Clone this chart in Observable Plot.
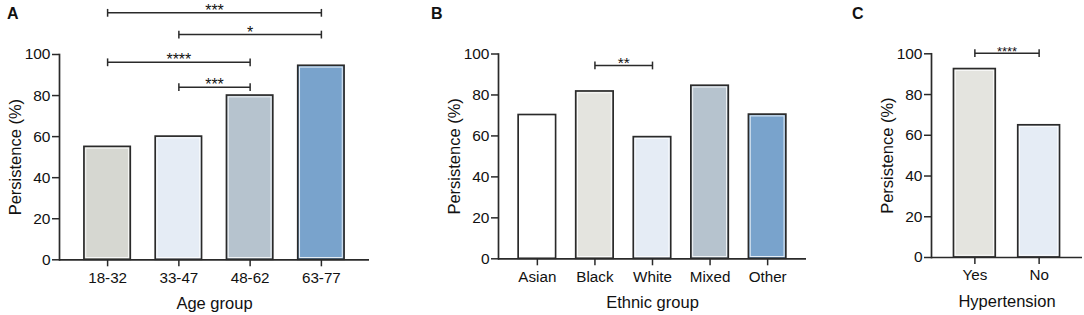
<!DOCTYPE html>
<html><head><meta charset="utf-8">
<script src="https://cdn.jsdelivr.net/npm/d3@7"></script>
<script src="https://cdn.jsdelivr.net/npm/@observablehq/plot@0.6"></script>
<style>
html,body{margin:0;padding:0;background:#fff;}
#wrap{position:relative;width:1084px;height:315px;overflow:hidden;font-family:"Liberation Sans",Arial,sans-serif;}
.panel{position:absolute;top:0;}
.letter{position:absolute;font-weight:bold;font-size:16px;line-height:16px;color:#111;font-family:"Liberation Sans",Arial,sans-serif;}
</style></head><body><div id="wrap"></div>
<script>
// ---- data ----
const yTicks = [0, 20, 40, 60, 80, 100];

const ageGroups = ["18-32", "33-47", "48-62", "63-77"];
const agePersistence = [55, 60, 80, 94.5];
const ageColors = ["#d6d7d1", "#e5ecf5", "#b6c3ce", "#79a3cc"];
const ageBrackets = [
  {a: "18-32", b: "63-77", y: 120.3, label: "***"},
  {a: "33-47", b: "63-77", y: 109.7, label: "*"},
  {a: "18-32", b: "48-62", y: 96.2, label: "****"},
  {a: "33-47", b: "48-62", y: 84.1, label: "***"}
];

const ethnicGroups = ["Asian", "Black", "White", "Mixed", "Other"];
const ethnicPersistence = [70.2, 81.7, 59.4, 84.5, 70.4];
const ethnicColors = ["#ffffff", "#e4e4df", "#e5ecf5", "#b6c3ce", "#79a3cc"];
const ethnicBrackets = [
  {a: "Black", b: "White", y: 94.4, label: "**"}
];

const hyperGroups = ["Yes", "No"];
const hyperPersistence = [92.5, 64.9];
const hyperColors = ["#e4e4df", "#e5ecf5"];
const hyperBrackets = [
  {a: "Yes", b: "No", y: 100.3, label: "****"}
];

const yLabel = "Persistence (%)";

// ---- drawing ----
const INK = "#2a2a2a";
const wrap = document.getElementById("wrap");

function panel(cfg) {
  const {cats, vals, colors, brackets, xLabel, left, width, ml, mr, mt, mb, starSize, letter, letterX} = cfg;
  const data = cats.map((c, i) => ({cat: c, v: vals[i], color: colors[i]}));
  const xOpts = {type: "band", domain: cats, range: [ml, width - mr], padding: 0.35, round: false};
  const sx = Plot.scale({x: xOpts});
  const ends = brackets.flatMap(br => [{c: br.a, y: br.y}, {c: br.b, y: br.y}]);
  const starMarks = brackets.map(br => Plot.text([br], {
    x: "a", y: "y", text: "label",
    dx: (sx.apply(br.b) - sx.apply(br.a)) / 2, dy: 3,
    lineAnchor: "bottom", fontSize: starSize, fill: "#111"
  }));
  const p = Plot.plot({
    width, height: 315,
    marginLeft: ml, marginRight: mr, marginTop: mt, marginBottom: mb,
    style: {fontFamily: '"Liberation Sans", Arial, sans-serif', fontSize: "15px", color: "#111", background: "transparent", overflow: "visible"},
    x: {...xOpts, range: undefined, axis: null},
    y: {domain: [0, 100], axis: null},
    color: {type: "identity"},
    marks: [
      Plot.barY(data, {x: "cat", y: "v", fill: "color", stroke: INK, strokeWidth: 1.7}),
      Plot.barY(data, {x: "cat", y: "v", inset: 1.8, fill: "none", stroke: "white", strokeWidth: 1, strokeOpacity: 0.8}),
      Plot.axisX({tickSize: 7, tickPadding: 5, fontSize: 15.2, stroke: INK, strokeWidth: 1.5, label: null}),
      Plot.axisY({ticks: yTicks, tickSize: 7, tickPadding: 2, fontSize: 15.5, stroke: INK, strokeWidth: 1.5, label: null}),
      Plot.ruleY([0], {stroke: INK, strokeWidth: 1.7}),
      Plot.frame({anchor: "left", stroke: INK, strokeWidth: 1.7}),
      Plot.text([xLabel], {text: d => d, frameAnchor: "bottom", dy: 49, lineAnchor: "bottom", fontSize: 16.5}),
      Plot.text([yLabel], {text: d => d, frameAnchor: "left", dx: -44, rotate: -90, textAnchor: "middle", lineAnchor: "middle", fontSize: 16.5}),
      Plot.link(brackets, {x1: "a", x2: "b", y1: "y", y2: "y", stroke: INK, strokeWidth: 1.5}),
      Plot.link(ends, {x1: "c", x2: "c", y1: d => d.y - 1.9, y2: d => d.y + 1.9, stroke: INK, strokeWidth: 1.5}),
      ...starMarks
    ]
  });
  const div = document.createElement("div");
  div.className = "panel";
  div.style.left = left + "px";
  div.appendChild(p);
  wrap.appendChild(div);
  const L = document.createElement("div");
  L.className = "letter";
  L.textContent = letter;
  L.style.left = letterX + "px";
  L.style.top = "6px";
  wrap.appendChild(L);
}

panel({cats: ageGroups, vals: agePersistence, colors: ageColors, brackets: ageBrackets, xLabel: "Age group",
  left: 0, width: 380, ml: 59, mr: 11, mt: 54, mb: 55.7, starSize: 16, letter: "A", letterX: 7});
panel({cats: ethnicGroups, vals: ethnicPersistence, colors: ethnicColors, brackets: ethnicBrackets, xLabel: "Ethnic group",
  left: 380, width: 440, ml: 118, mr: 14, mt: 53.5, mb: 56.7, starSize: 15.5, letter: "B", letterX: 431});
panel({cats: hyperGroups, vals: hyperPersistence, colors: hyperColors, brackets: hyperBrackets, xLabel: "Hypertension",
  left: 820, width: 264, ml: 111, mr: 2, mt: 53.3, mb: 58, starSize: 13, letter: "C", letterX: 852});
</script>
</body></html>
